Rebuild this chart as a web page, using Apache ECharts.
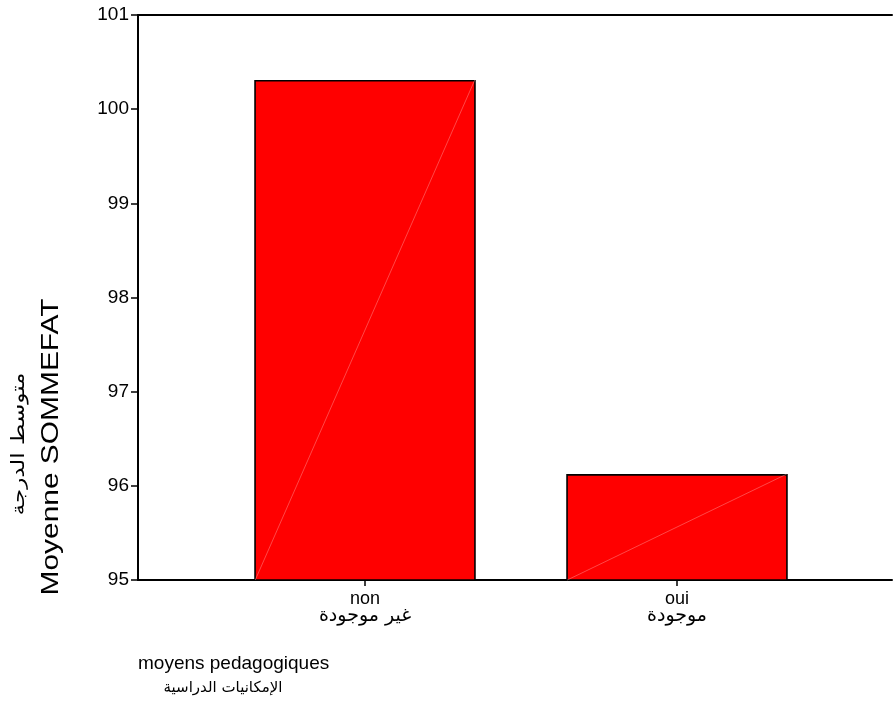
<!DOCTYPE html>
<html><head><meta charset="utf-8">
<script src="https://cdn.jsdelivr.net/npm/echarts@6/dist/echarts.min.js"></script>
<style>html,body{margin:0;padding:0;background:#fff}#c{width:893px;height:717px}</style>
</head><body><div id="c"></div>
<script>
var categoriesFr = ['non', 'oui'];
var categoriesAr = ['غير موجودة', 'موجودة'];
var values = [100.31, 96.125];
var yTicks = [95, 96, 97, 98, 99, 100, 101];
var yTitleFr = 'Moyenne SOMMEFAT';
var yTitleAr = 'متوسط الدرجة';
var xTitleFr = 'moyens pedagogiques';
var xTitleAr = 'الإمكانيات الدراسية';

var FONT = '"Liberation Sans", Arial, "DejaVu Sans", sans-serif';
var AFONT = '"DejaVu Sans", "Liberation Sans", sans-serif';
var yMin = yTicks[0], yMax = yTicks[yTicks.length - 1];
var BW = 0.71;

var chart = echarts.init(document.getElementById('c'), null, {renderer: 'canvas'});
chart.setOption({
  animation: false,
  backgroundColor: '#fff',
  grid: [
    {left: 138, right: 1, top: 15, bottom: 137},
    {left: 209, right: 60, top: 15, bottom: 137}
  ],
  xAxis: [
    {type: 'value', gridIndex: 0, min: 0, max: 1, position: 'bottom',
     axisLine: {show: true, lineStyle: {color: '#000', width: 2}},
     axisTick: {show: false}, axisLabel: {show: false}, splitLine: {show: false}},
    {type: 'value', gridIndex: 0, min: 0, max: 1, position: 'top',
     axisLine: {show: true, lineStyle: {color: '#000', width: 2}},
     axisTick: {show: false}, axisLabel: {show: false}, splitLine: {show: false}},
    {type: 'category', gridIndex: 1, data: categoriesFr,
     axisLine: {show: false},
     axisTick: {show: true, alignWithLabel: true, length: 6, lineStyle: {color: '#000', width: 1.5}},
     axisLabel: {
       margin: 12,
       formatter: function (v, i) { return '{fr|' + v + '}\n{ar|' + categoriesAr[i] + '}'; },
       rich: {
         fr: {fontFamily: FONT, fontSize: 18, color: '#000', lineHeight: 14},
         ar: {fontFamily: AFONT, fontSize: 19, color: '#000', lineHeight: 20}
       }
     },
     splitLine: {show: false}}
  ],
  yAxis: [
    {type: 'value', gridIndex: 0, min: yMin, max: yMax, interval: 1,
     axisLine: {show: true, lineStyle: {color: '#000', width: 2}},
     axisTick: {show: true, length: 7, lineStyle: {color: '#000', width: 1.5}},
     axisLabel: {fontFamily: FONT, fontSize: 19, color: '#000', margin: 9},
     splitLine: {show: false}},
    {type: 'value', gridIndex: 1, min: yMin, max: yMax, interval: 1, show: false}
  ],
  series: [
    {type: 'bar', xAxisIndex: 2, yAxisIndex: 1, data: values, barWidth: (BW * 100) + '%',
     itemStyle: {color: '#ff0000', borderColor: '#000', borderWidth: 1.6}},
    {type: 'custom', xAxisIndex: 2, yAxisIndex: 1, data: values, silent: true, z: 5,
     renderItem: function (params, api) {
       var top = api.coord([api.value(0), api.value(1)]);
       var bot = api.coord([api.value(0), yMin]);
       var hw = api.size([1, 0])[0] * BW / 2;
       return {type: 'line', shape: {x1: bot[0] - hw + 1, y1: bot[1], x2: top[0] + hw - 1, y2: top[1]},
               style: {stroke: 'rgba(255,170,170,0.7)', lineWidth: 0.6}};
     },
     encode: {x: 0, y: 1}}
  ],
  graphic: [
    {type: 'text', left: 138, top: 654, style: {text: xTitleFr, font: '19px ' + FONT, fill: '#000'}},
    {type: 'text', x: 223, y: 681, style: {text: xTitleAr, font: '15px ' + AFONT, fill: '#000', align: 'center', verticalAlign: 'top'}},
    {type: 'text', x: 52, y: 447, rotation: Math.PI / 2, scaleX: 1.3, style: {text: yTitleFr, font: '23px ' + FONT, fill: '#000', align: 'center', verticalAlign: 'middle'}},
    {type: 'text', x: 19, y: 444, rotation: Math.PI / 2, scaleX: 1.28, style: {text: yTitleAr, font: '18px ' + AFONT, fill: '#000', align: 'center', verticalAlign: 'middle'}}
  ]
});
</script>
</body></html>
